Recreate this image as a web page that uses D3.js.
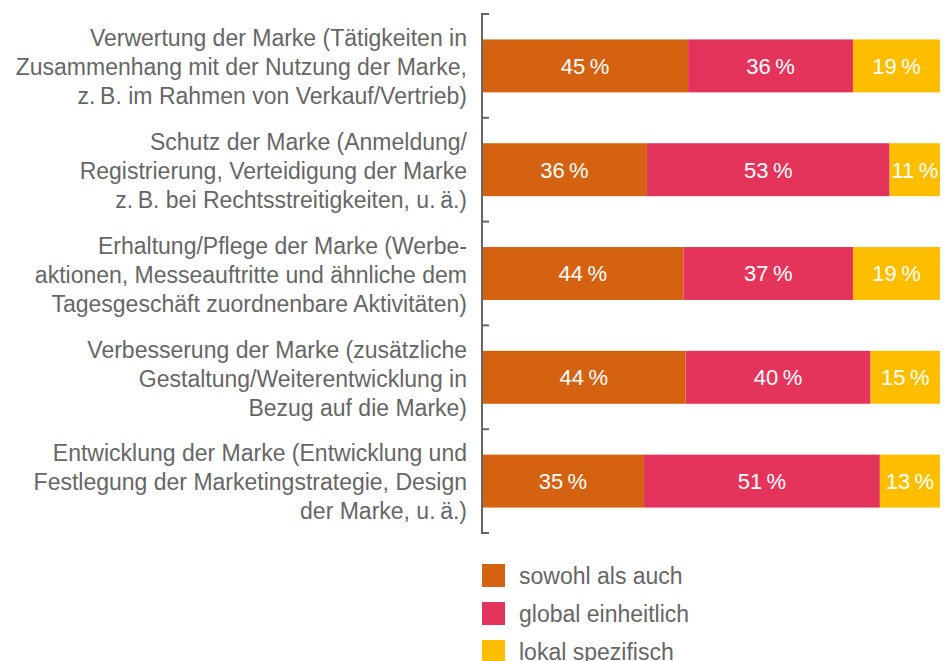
<!DOCTYPE html>
<html>
<head>
<meta charset="utf-8">
<script src="https://cdnjs.cloudflare.com/ajax/libs/d3/7.8.5/d3.min.js"></script>
<style>
  body { margin: 0; background: #fff; }
  svg text { font-family: "Liberation Sans", Arial, sans-serif; }
</style>
</head>
<body>
<div id="chart"></div>
<script>
// categories, each one a list of label lines
var categories = [
    ["Verwertung der Marke (Tätigkeiten in", "Zusammenhang mit der Nutzung der Marke,", "z.\u2009B. im Rahmen von Verkauf/Vertrieb)"],
    ["Schutz der Marke (Anmeldung/", "Registrierung, Verteidigung der Marke", "z.\u2009B. bei Rechtsstreitigkeiten, u.\u2009ä.)"],
    ["Erhaltung/Pflege der Marke (Werbe-", "aktionen, Messeauftritte und ähnliche dem", "Tagesgeschäft zuordnenbare Aktivitäten)"],
    ["Verbesserung der Marke (zusätzliche", "Gestaltung/Weiterentwicklung in", "Bezug auf die Marke)"],
    ["Entwicklung der Marke (Entwicklung und", "Festlegung der Marketingstrategie, Design", "der Marke, u.\u2009ä.)"]
];
var seriesNames = ["sowohl als auch", "global einheitlich", "lokal spezifisch"];
var sowohl = [45, 36, 44, 44, 35];
var global = [36, 53, 37, 40, 51];
var lokal = [19, 11, 19, 15, 13];
var colors = ["#d46211", "#e5345b", "#fdbe00"];

var width = 950, height = 661;
var plotLeft = 482, plotRight = 940, plotTop = 14, plotBottom = 533;
var fontSize = 23;

var rows = categories.map(function (c, i) {
    return { idx: i, s0: sowohl[i], s1: global[i], s2: lokal[i] };
});
var keys = ["s0", "s1", "s2"];

var stack = d3.stack().keys(keys).offset(d3.stackOffsetExpand);
var layers = stack(rows);

var svg = d3.select("#chart").append("svg")
    .attr("width", width)
    .attr("height", height);

var x = d3.scaleLinear().domain([0, 1]).range([plotLeft, plotRight]);
var y = d3.scaleBand()
    .domain(d3.range(categories.length))
    .range([plotTop, plotBottom])
    .paddingInner(0.49)
    .paddingOuter(0.245);

// bars
var layerG = svg.selectAll("g.layer")
    .data(layers)
    .enter().append("g")
    .attr("class", "layer")
    .attr("fill", function (d, i) { return colors[i]; });

layerG.selectAll("rect")
    .data(function (d) { return d; })
    .enter().append("rect")
    .attr("x", function (d) { return x(d[0]); })
    .attr("y", function (d) { return y(d.data.idx); })
    .attr("width", function (d) { return x(d[1]) - x(d[0]); })
    .attr("height", y.bandwidth());

// value labels
layerG.each(function (layer) {
    var key = layer.key;
    d3.select(this).selectAll("text")
        .data(layer)
        .enter().append("text")
        .attr("x", function (d) { return (x(d[0]) + x(d[1])) / 2; })
        .attr("y", function (d) { return y(d.data.idx) + y.bandwidth() / 2; })
        .attr("dy", "0.36em")
        .attr("text-anchor", "middle")
        .attr("fill", "#fff")
        .attr("font-size", fontSize - 1)
        .text(function (d) { return d.data[key] + "\u2009%"; });
});

// axis: line with ticks pointing into the plot
var tickPos = d3.range(categories.length + 1).map(function (i) {
    return plotTop + i * y.step();
});
var axis = svg.append("g").attr("stroke", "#666").attr("stroke-width", 2);
axis.append("line")
    .attr("x1", plotLeft).attr("x2", plotLeft)
    .attr("y1", plotTop).attr("y2", plotBottom);
axis.selectAll("line.tick")
    .data(tickPos)
    .enter().append("line")
    .attr("class", "tick")
    .attr("x1", plotLeft - 1).attr("x2", plotLeft + 7)
    .attr("y1", function (d) { return d; })
    .attr("y2", function (d) { return d; });

// category labels
var lineH = 29;
var labels = svg.selectAll("text.cat")
    .data(categories)
    .enter().append("text")
    .attr("class", "cat")
    .attr("text-anchor", "end")
    .attr("fill", "#666")
    .attr("font-size", fontSize);
labels.each(function (lines, i) {
    var cy = y(i) + y.bandwidth() / 2;
    var t = d3.select(this);
    lines.forEach(function (ln, j) {
        t.append("tspan")
            .attr("x", 467)
            .attr("y", cy + (j - (lines.length - 1) / 2) * lineH + 1)
            .attr("dy", "0.36em")
            .text(ln);
    });
});

// legend
var legend = svg.selectAll("g.legend")
    .data(seriesNames)
    .enter().append("g")
    .attr("class", "legend")
    .attr("transform", function (d, i) { return "translate(482," + (564 + i * 38) + ")"; });
legend.append("rect")
    .attr("width", 23).attr("height", 23)
    .attr("fill", function (d, i) { return colors[i]; });
legend.append("text")
    .attr("x", 37).attr("y", 11.5)
    .attr("dy", "0.36em")
    .attr("fill", "#666")
    .attr("font-size", fontSize)
    .text(function (d) { return d; });
</script>
</body>
</html>
